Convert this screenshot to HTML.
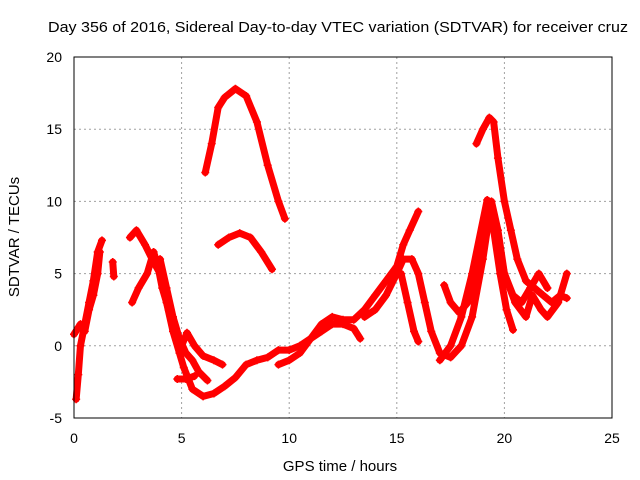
<!DOCTYPE html>
<html><head><meta charset="utf-8"><style>
body{margin:0;background:#fff}
svg{display:block;font-family:"Liberation Sans",sans-serif}
</style></head><body>
<svg id="chart" width="640" height="480" viewBox="0 0 640 480">
<rect width="640" height="480" fill="#fff"/>
<text x="338" y="32" font-size="15" text-anchor="middle" textLength="580" lengthAdjust="spacingAndGlyphs">Day 356 of 2016, Sidereal Day-to-day VTEC variation (SDTVAR) for receiver cruz</text>
<g id="grid"></g>
<g id="marks"></g>
<rect x="74" y="57" width="538" height="361" fill="none" stroke="#000" stroke-width="1"/>
<g id="ticks"></g>
<text x="340" y="471" font-size="15" text-anchor="middle">GPS time / hours</text>
<text x="19" y="237" font-size="15" text-anchor="middle" transform="rotate(-90 19 237)">SDTVAR / TECUs</text>
</svg>
<script>
const xTicks=[0,5,10,15,20,25];
const yTicks=[-5,0,5,10,15,20];
const trackA=[[0.1,-3.7],[0.2,-2],[0.3,0],[0.5,1.5],[0.7,3],[0.9,4.5],[1.1,6.5],[1.3,7.3]];
const trackA2=[[0,0.8],[0.3,1.5],[0.5,1],[0.7,2.5],[0.9,3.5],[1.1,5],[1.2,6.5]];
const trackA3=[[1.8,5.8],[1.85,4.8]];
const trackB1=[[2.6,7.5],[2.9,8],[3.3,7],[3.7,5.8],[4.0,5],[4.3,3],[4.6,1],[4.9,-0.5],[5.1,-1.5],[5.5,-3],[6,-3.5],[6.5,-3.3],[7,-2.8],[7.5,-2.2],[8,-1.3],[8.5,-1],[9,-0.8],[9.5,-0.3],[10,-0.3],[10.5,0],[11,0.5],[11.5,1.5],[12,2],[12.5,1.8],[13,1.8],[13.5,2.5],[14,3.5],[14.5,4.5],[15,5.5],[15.3,7],[15.6,8],[16,9.3]];
const trackB2=[[2.7,3],[3.0,4],[3.4,5],[3.7,6.5],[3.9,5.5],[4.1,4],[4.4,2.5],[4.7,1],[5.0,0],[5.25,0.9],[5.6,0],[6.0,-0.7],[6.5,-1],[6.9,-1.3]];
const trackB3=[[4.0,6],[4.3,4],[4.6,2],[4.9,0.5],[5.2,-0.5],[5.5,-1],[5.8,-1.8],[6.2,-2.4]];
const trackB4=[[4.8,-2.3],[5.2,-2.3],[5.6,-2.1]];
const trackC=[[6.1,12],[6.4,14],[6.7,16.5],[7,17.2],[7.5,17.8],[8,17.3],[8.5,15.5],[9,12.5],[9.5,10],[9.8,8.8]];
const trackD=[[6.7,7],[7.2,7.5],[7.7,7.8],[8.2,7.5],[8.7,6.5],[9.2,5.3]];
const trackE=[[9.5,-1.3],[10,-1],[10.5,-0.5],[11,0.5],[11.5,1],[12,1.5],[12.5,1.5],[13,1.2],[13.3,0.5]];
const trackF=[[13.5,2],[14,2.5],[14.5,3.5],[15,5],[15.3,6],[15.7,6],[16,5],[16.3,3],[16.6,1],[17,-0.5],[17.5,-0.8],[18,0],[18.5,2],[19,6],[19.4,10],[19.7,8],[20,5],[20.5,3],[21,2],[21.3,3.5],[21.7,2.5],[22,2],[22.5,3],[22.9,5]];
const trackG=[[15.2,5],[15.5,3],[15.8,1],[16,0.3]];
const trackH=[[18.7,14],[19,15],[19.3,15.8],[19.5,15.5],[19.7,13],[20,10],[20.3,8],[20.6,6],[21,4.5],[21.4,4],[21.8,3.5],[22.2,3],[22.6,3.5],[22.9,3.3]];
const trackI=[[17.2,4.2],[17.5,3],[17.9,2.3],[18.3,3],[18.7,5.5],[19.2,9.5],[19.5,8],[19.8,5],[20.1,2.5],[20.4,1.1]];
const trackJ=[[17,-1],[17.5,0],[18,2],[18.5,5],[19.2,10.1],[19.6,8],[20,5],[20.4,3.5],[20.8,3],[21.2,4],[21.6,5],[22,4]];
const tracks=[trackA,trackA2,trackA3,trackB1,trackB2,trackB3,trackB4,trackC,trackD,trackE,trackF,trackG,trackH,trackI,trackJ];
const X=v=>74+v*538/25, Y=v=>57+(20-v)*361/25;
const NS="http://www.w3.org/2000/svg";
const grid=document.getElementById('grid'),ticks=document.getElementById('ticks'),marks=document.getElementById('marks');
xTicks.forEach(t=>{const x=X(t);
 if(t>0&&t<25){const l=document.createElementNS(NS,'line');
 
 
 l.setAttribute('x1',x);l.setAttribute('x2',x);l.setAttribute('y1',57);l.setAttribute('y2',418);l.setAttribute('stroke','#a0a0a0');l.setAttribute('stroke-dasharray','2,3');grid.appendChild(l);}
 const tx=document.createElementNS(NS,'text');
 
 
 tx.setAttribute('x',x);tx.setAttribute('y',443);tx.setAttribute('font-size','14');tx.setAttribute('text-anchor','middle');tx.textContent=t;ticks.appendChild(tx);});
yTicks.forEach(t=>{const y=Y(t);
 if(t>-5&&t<20){const l=document.createElementNS(NS,'line');
 
 
 l.setAttribute('x1',74);l.setAttribute('x2',612);l.setAttribute('y1',y);l.setAttribute('y2',y);l.setAttribute('stroke','#a0a0a0');l.setAttribute('stroke-dasharray','2,3');grid.appendChild(l);}
 const tx=document.createElementNS(NS,'text');
 
 
 tx.setAttribute('x',62);tx.setAttribute('y',y+5);tx.setAttribute('font-size','14');tx.setAttribute('text-anchor','end');tx.textContent=t;ticks.appendChild(tx);});
tracks.forEach(tr=>{
 const p=document.createElementNS(NS,'polyline');
 
 
 p.setAttribute('points',tr.map(d=>X(d[0])+','+Y(d[1])).join(' '));
 p.setAttribute('fill','none');p.setAttribute('stroke','#ff0000');p.setAttribute('stroke-width','7');p.setAttribute('stroke-linejoin','round');p.setAttribute('stroke-linecap','round');
 marks.appendChild(p);
 tr.forEach(d=>{const c=document.createElementNS(NS,'path');
 
 
 const x=X(d[0]),y=Y(d[1]);
 c.setAttribute('d',`M${x-4},${y}H${x+4}M${x},${y-4}V${y+4}`);c.setAttribute('stroke','#ff0000');c.setAttribute('stroke-width','1.5');marks.appendChild(c);});
});
</script>
</body></html>
